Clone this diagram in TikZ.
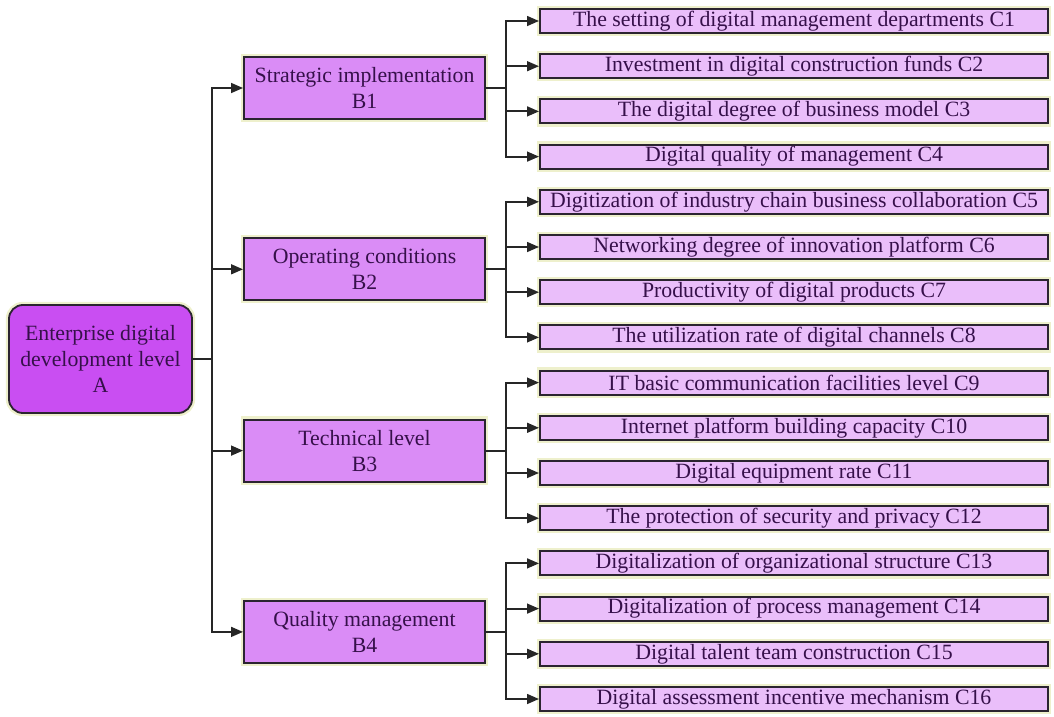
\documentclass[tikz,border=0pt]{standalone}
\usepackage{fontspec}
\setmainfont{Liberation Serif}
\usepackage{tikz}
\usetikzlibrary{arrows.meta}

\definecolor{edge}{HTML}{2B2430}
\definecolor{glow}{HTML}{EEF0CC}
\definecolor{ink}{HTML}{36104A}
\definecolor{fillA}{HTML}{C94EF2}
\definecolor{fillB}{HTML}{DA8CF6}
\definecolor{fillC}{HTML}{EABEFA}

\begin{document}
\begin{tikzpicture}[x=0.025cm,y=-0.025cm,
    box/.style={draw=edge,line width=1.3pt,preaction={draw=glow,line width=4.5pt},
        text=ink,align=center,inner sep=0pt,font=\fontsize{15.5}{18.5}\selectfont},
    levelA/.style={box,fill=fillA,rounded corners=0.35cm,minimum width=4.575cm,minimum height=2.7cm},
    levelB/.style={box,fill=fillB,minimum width=6.025cm,minimum height=1.55cm},
    levelC/.style={box,fill=fillC,minimum width=12.7cm,minimum height=0.6cm},
    conn/.style={draw=black!85,line width=1.3pt,-{Triangle[length=8.5pt,width=7pt]}}]
        \useasboundingbox (0,0) rectangle (1054,717);
        \node[levelA] (A) at (100.5,359) {Enterprise digital\\development level\\A};
        \foreach \i/\txt in {1/Strategic implementation,2/Operating conditions,3/Technical level,4/Quality management}
            \node[levelB] (B\i) at (364.5,{88+181.3*(\i-1)}) {\txt\\B\i};
        \foreach \j/\txt in {1/The setting of digital management departments,2/Investment in digital construction funds,
            3/The digital degree of business model,4/Digital quality of management,
            5/Digitization of industry chain business collaboration,6/Networking degree of innovation platform,
            7/Productivity of digital products,8/The utilization rate of digital channels,
            9/IT basic communication facilities level,10/Internet platform building capacity,
            11/Digital equipment rate,12/The protection of security and privacy,
            13/Digitalization of organizational structure,14/Digitalization of process management,
            15/Digital talent team construction,16/Digital assessment incentive mechanism}
            \node[levelC] (C\j) at (794,{21+45.2*(\j-1)}) {\txt{} C\j};
        \foreach \i in {1,...,4}
            \draw[conn] (A.east) -- ++(19,0) |- (B\i.west);
        \foreach \i in {1,...,4}
            \foreach \k in {1,...,4} {
                \pgfmathtruncatemacro\j{4*(\i-1)+\k}
                \draw[conn] (B\i.east) -- ++(20,0) |- (C\j.west);
            }
    \end{tikzpicture}
\end{document}
